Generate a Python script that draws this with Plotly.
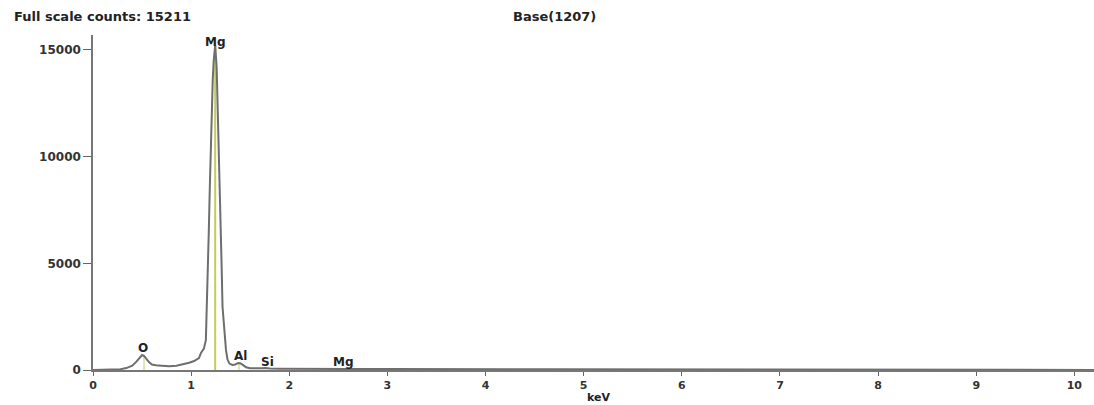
import plotly.graph_objects as go

# Spectrum
energy_kev = [0.00, 0.10, 0.20, 0.28, 0.34, 0.40, 0.44, 0.47, 0.50, 0.52, 0.54, 0.57, 0.60, 0.64, 0.70,
              0.78, 0.85, 0.92, 0.98, 1.03, 1.08, 1.10, 1.13, 1.15, 1.16, 1.17, 1.18, 1.19, 1.20, 1.21,
              1.22, 1.23, 1.245, 1.26, 1.27, 1.28, 1.29, 1.30, 1.31, 1.32, 1.34, 1.355, 1.37, 1.39, 1.42,
              1.45, 1.48, 1.50, 1.53, 1.56, 1.60, 1.66, 1.72, 1.76, 1.80, 1.90, 2.0, 2.2, 2.4, 2.55,
              2.7, 3.0, 3.3, 3.6, 3.8, 4.0, 4.3, 4.6, 5.0, 5.5, 6.0, 6.5, 7.0, 7.5, 8.0,
              8.5, 9.0, 9.5, 10.0, 10.2]
counts = [0, 5, 15, 40, 90, 200, 380, 540, 700, 660, 540, 370, 260, 220, 200,
          180, 200, 260, 340, 420, 560, 800, 1000, 1400, 2800, 4500, 6500, 8500, 10500, 12600,
          13600, 14500, 15211, 14200, 12500, 11000, 9400, 7600, 5000, 2950, 1600, 940, 500, 300, 240,
          260, 330, 320, 230, 130, 80, 70, 80, 95, 70, 60, 55, 50, 50, 55,
          45, 45, 50, 60, 55, 45, 40, 35, 35, 30, 28, 25, 20, 18, 15,
          12, 10, 8, 6, 5]

# Element marker lines
marker_kev = [0.52, 1.245, 1.487]
marker_counts = [690, 15211, 330]
marker_colors = ["#e3e6b4", "#c2cc5e", "#e3e6b4"]

# Element labels
label_names = ["O", "Mg", "Al", "Si", "Mg"]
label_kev = [0.505, 1.25, 1.505, 1.776, 2.557]
label_counts = [1030, 15390, 670, 360, 360]

x_ticks = [0, 1, 2, 3, 4, 5, 6, 7, 8, 9, 10]
y_ticks = [0, 5000, 10000, 15000]
y_tick_labels = ["0", "5000", "10000", "15000"]

fig = go.Figure()

for k, c, col in zip(marker_kev, marker_counts, marker_colors):
    fig.add_trace(go.Scatter(x=[k, k], y=[0, c], mode="lines",
                             line=dict(color=col, width=2), hoverinfo="skip", showlegend=False))

fig.add_trace(go.Scatter(x=energy_kev, y=counts, mode="lines",
                         line=dict(color="#6e6e6e", width=2), showlegend=False))

lab_font = dict(family="DejaVu Sans", size=12, color="#222222", weight="bold")
title_font = dict(family="DejaVu Sans", size=13, color="#222222", weight="bold")
for n, k, c in zip(label_names, label_kev, label_counts):
    fig.add_annotation(x=k, y=c, text=n, showarrow=False, font=lab_font,
                       xanchor="center", yanchor="middle")

fig.add_annotation(xref="paper", yref="paper", x=-0.0809, y=1.0567, text="Full scale counts: 15211",
                   showarrow=False, xanchor="left", yanchor="middle", font=title_font)
fig.add_annotation(xref="paper", yref="paper", x=0.461, y=1.0567, text="Base(1207)",
                   showarrow=False, xanchor="center", yanchor="middle", font=title_font)
fig.add_annotation(xref="paper", yref="paper", x=0.5045, y=-0.083, text="keV",
                   showarrow=False, xanchor="center", yanchor="middle",
                   font=dict(family="DejaVu Sans", size=11, color="#222222", weight="bold"))

xtick_font = dict(family="DejaVu Sans", size=11, color="#333333", weight="bold")
ytick_font = dict(family="DejaVu Sans", size=12, color="#333333", weight="bold")
fig.update_layout(
    width=1094, height=405,
    margin=dict(l=93, r=0, t=35, b=35, autoexpand=False),
    paper_bgcolor="white", plot_bgcolor="white",
    xaxis=dict(range=[0, 10.2], tickvals=x_ticks, ticks="outside", ticklen=4, tickcolor="#666",
               showline=True, linecolor="#777", linewidth=1.5, showgrid=False, zeroline=False,
               tickfont=xtick_font, fixedrange=True, automargin=False),
    yaxis=dict(range=[0, 15700], tickvals=y_ticks, ticktext=y_tick_labels, ticks="outside",
               ticklen=8, tickcolor="#666",
               showline=True, linecolor="#777", linewidth=1.5, showgrid=False, zeroline=False,
               tickfont=ytick_font, fixedrange=True, automargin=False),
)

fig.write_html("out.html", config={"displayModeBar": False},
               post_script="document.body.style.margin='0px';document.body.style.overflow='hidden';")
